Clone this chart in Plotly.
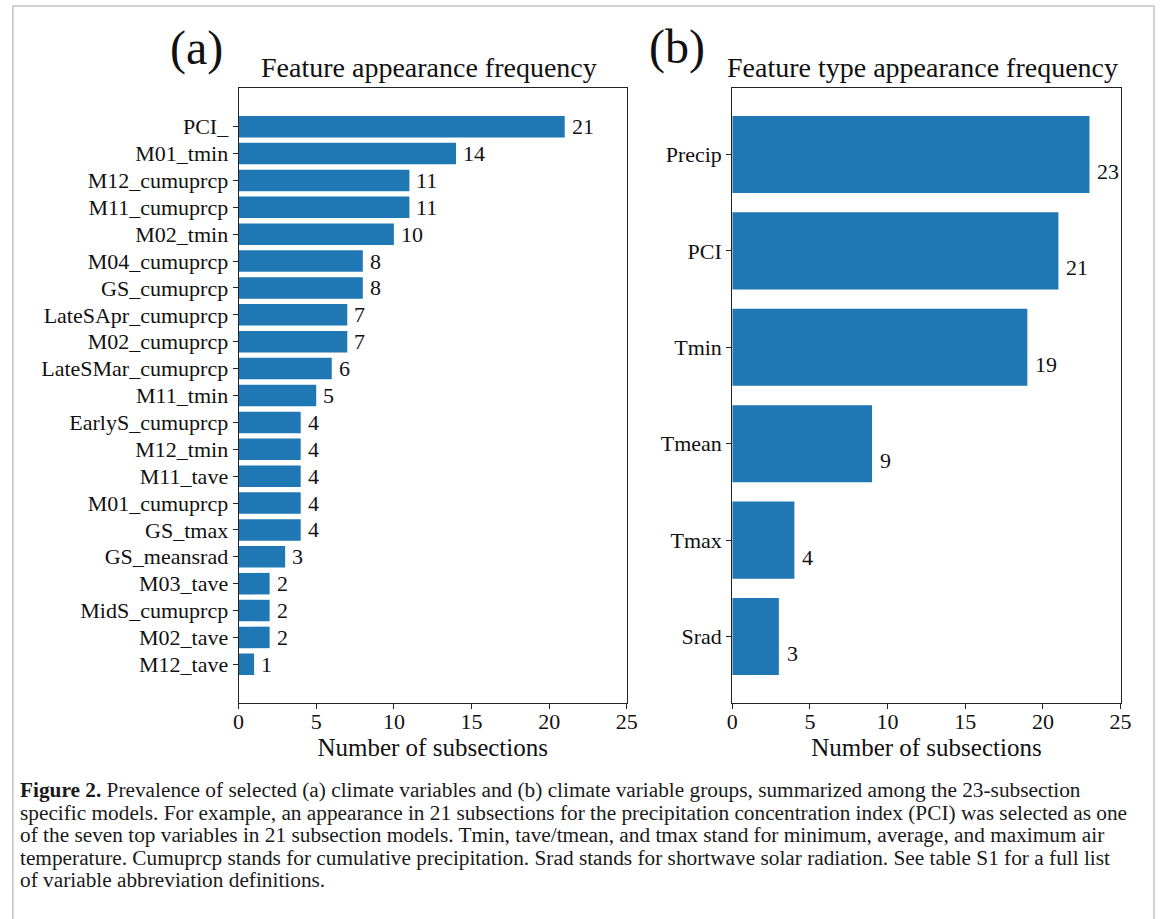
import plotly.graph_objects as go

# Panel (a): individual climate features, ordered top to bottom
features = [
    "PCI_", "M01_tmin", "M12_cumuprcp", "M11_cumuprcp", "M02_tmin",
    "M04_cumuprcp", "GS_cumuprcp", "LateSApr_cumuprcp", "M02_cumuprcp",
    "LateSMar_cumuprcp", "M11_tmin", "EarlyS_cumuprcp", "M12_tmin",
    "M11_tave", "M01_cumuprcp", "GS_tmax", "GS_meansrad", "M03_tave",
    "MidS_cumuprcp", "M02_tave", "M12_tave",
]
feature_counts = [21, 14, 11, 11, 10, 8, 8, 7, 7, 6, 5, 4, 4, 4, 4, 4, 3, 2, 2, 2, 1]

# Panel (b): feature groups
feature_types = ["Precip", "PCI", "Tmin", "Tmean", "Tmax", "Srad"]
type_counts = [23, 21, 19, 9, 4, 3]

x_ticks = [0, 5, 10, 15, 20, 25]

caption_lines = [
    "<b>Figure 2.</b> Prevalence of selected (a) climate variables and (b) climate variable groups, summarized among the 23-subsection",
    "specific models. For example, an appearance in 21 subsections for the precipitation concentration index (PCI) was selected as one",
    "of the seven top variables in 21 subsection models. Tmin, tave/tmean, and tmax stand for minimum, average, and maximum air",
    "temperature. Cumuprcp stands for cumulative precipitation. Srad stands for shortwave solar radiation. See table S1 for a full list",
    "of variable abbreviation definitions.",
]

W, H = 1168, 919
BLUE = "#1f77b4"
SERIF = "Liberation Serif"


def px_x(p):
    return p / W


def px_y(p):
    return 1 - p / H


fig = go.Figure()

fig.add_trace(go.Bar(
    x=feature_counts, y=features, orientation="h", width=0.8,
    marker=dict(color=BLUE, line=dict(width=0)),
    xaxis="x", yaxis="y", showlegend=False,
))
fig.add_trace(go.Bar(
    x=type_counts, y=feature_types, orientation="h", width=0.8,
    marker=dict(color=BLUE, line=dict(width=0)),
    xaxis="x2", yaxis="y2", showlegend=False,
))

top, bottom = 88, 703
ydom = [px_y(bottom), px_y(top)]

axis_common = dict(
    showline=True, linecolor="#222", linewidth=1, mirror=True,
    showgrid=False, zeroline=False, ticks="outside", ticklen=5,
    tickwidth=1, tickcolor="#222",
)
x_common = dict(
    axis_common, range=[0, 25], tickvals=x_ticks,
    tickfont=dict(family=SERIF, size=22, color="#111"),
    ticklabelstandoff=-6,
    title=dict(text="Number of subsections",
               font=dict(family=SERIF, size=25, color="#111"), standoff=2),
)


def y_axis(cats, margin):
    n = len(cats)
    return dict(
        axis_common, type="category", categoryorder="array", categoryarray=cats,
        range=[n - 1 + 0.4 + margin, -0.4 - margin],
        tickfont=dict(family=SERIF, size=22, color="#111"),
    )


fig.update_layout(
    width=W, height=H, autosize=False,
    margin=dict(l=0, r=0, t=0, b=0),
    paper_bgcolor="white", plot_bgcolor="white",
    xaxis=dict(x_common, domain=[px_x(236), px_x(630)], anchor="y"),
    yaxis=dict(y_axis(features, 0.05 * 20.8), domain=ydom, anchor="x"),
    xaxis2=dict(x_common, domain=[px_x(737), px_x(1131)], anchor="y2"),
    yaxis2=dict(y_axis(feature_types, 0.05 * 5.8), domain=ydom, anchor="x2"),
    showlegend=False,
)

annotations = []
# Value labels
for name, v in zip(features, feature_counts):
    annotations.append(dict(
        x=v, y=name, xref="x", yref="y", text=str(v), showarrow=False,
        xanchor="left", yanchor="middle", xshift=5,
        font=dict(family=SERIF, size=22, color="#111"),
    ))
for name, v in zip(feature_types, type_counts):
    annotations.append(dict(
        x=v, y=name, xref="x2", yref="y2", text=str(v), showarrow=False,
        xanchor="left", yanchor="middle", xshift=6, yshift=-17,
        font=dict(family=SERIF, size=22, color="#111"),
    ))

# Panel titles and letters
annotations += [
    dict(x=px_x(429), y=px_y(68), xref="paper", yref="paper",
         text="Feature appearance frequency", showarrow=False,
         xanchor="center", yanchor="middle",
         font=dict(family=SERIF, size=28, color="#111")),
    dict(x=px_x(930), y=px_y(68), xref="paper", yref="paper",
         text="Feature type appearance frequency", showarrow=False,
         xanchor="center", yanchor="middle",
         font=dict(family=SERIF, size=28, color="#111")),
    dict(x=px_x(193), y=px_y(48), xref="paper", yref="paper",
         text="(a)", showarrow=False, xanchor="center", yanchor="middle",
         font=dict(family=SERIF, size=48, color="#111")),
    dict(x=px_x(681), y=px_y(47), xref="paper", yref="paper",
         text="(b)", showarrow=False, xanchor="center", yanchor="middle",
         font=dict(family=SERIF, size=48, color="#111")),
]

# Caption, one line per annotation
for i, line in enumerate(caption_lines):
    annotations.append(dict(
        x=px_x(12), y=px_y(790 + i * 22.5), xref="paper", yref="paper",
        text=line, showarrow=False, xanchor="left", yanchor="middle",
        font=dict(family=SERIF, size=21.3, color="#1a1a1a"),
    ))

fig.update_layout(annotations=annotations)

# Light frame around the whole figure
fig.add_shape(
    type="rect", xref="paper", yref="paper",
    x0=px_x(7), x1=px_x(1165), y0=-0.02, y1=px_y(6),
    line=dict(color="#c4c4c4", width=1.5), fillcolor="rgba(0,0,0,0)",
    layer="below",
)

fig.write_html("out.html", config={"responsive": False})
